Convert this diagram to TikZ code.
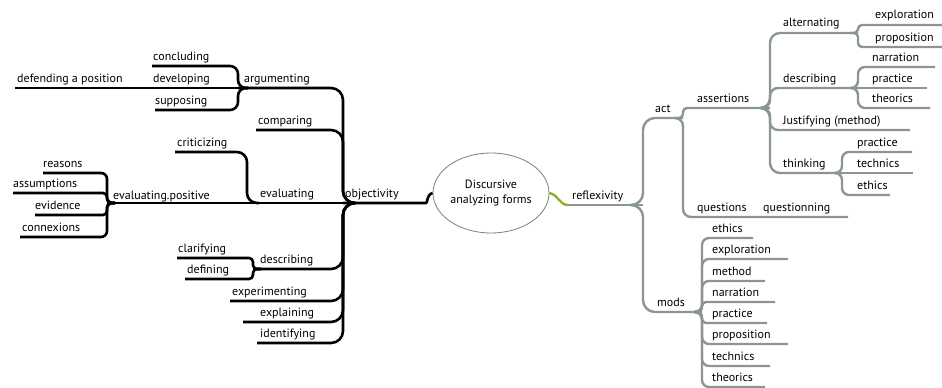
\documentclass[tikz,border=0pt]{standalone}
\usepackage{fontspec}
\setmainfont{PT Sans}
\usetikzlibrary{shapes.geometric}
\definecolor{linegrey}{RGB}{140,150,145}
\definecolor{lgreen}{RGB}{140,178,40}
\definecolor{ellgrey}{RGB}{125,125,125}
\begin{document}
\begin{tikzpicture}[x=1pt,y=-1pt,
  lbl/.style={anchor=base west, inner sep=0pt, font=\fontsize{12}{14}\selectfont},
  blk/.style={line width=2.6pt, black, rounded corners=#1},
  blk/.default=6pt,
  gry/.style={line width=2.4pt, linegrey, rounded corners=#1},
  gry/.default=6pt]
\useasboundingbox (0,0) rectangle (942,388);
% centre
\node[ellipse, draw=ellgrey, line width=0.8pt, fill=white, minimum width=116pt, minimum height=80pt, align=center, inner sep=0pt, font=\fontsize{12}{15}\selectfont] (ctr) at (491,193) {Discursive\\analyzing forms};
% ---------- left (black) ----------
\coordinate (Jobj) at (343,203);
\coordinate (objE) at (420,203);
\coordinate (argJ) at (238,88);
\coordinate (conclE) at (152,66);
\coordinate (defE) at (15,88);
\coordinate (suppE) at (155,110);
\coordinate (compE) at (256,130);
\coordinate (evJ) at (247,203);
\coordinate (critE) at (175,152);
\coordinate (epJ) at (107,203);
\coordinate (reasE) at (43,173);
\coordinate (assE) at (13,193);
\coordinate (eviE) at (35,215);
\coordinate (conE) at (20,237);
\coordinate (deJ) at (253,269);
\coordinate (clarE) at (177,258);
\coordinate (defiE) at (185,279);
\coordinate (expE) at (230,301);
\coordinate (explE) at (243,322);
\coordinate (idE) at (257,343);

\draw[blk] (ctr.west) .. controls (426,195) and (428,203) .. (objE) -- (Jobj);
\draw[blk=12pt] ([xshift=12pt]Jobj) -- (Jobj) |- (argJ);
\draw[blk=12pt] ([xshift=12pt]Jobj) -- (Jobj) |- (compE);
\draw[blk] (Jobj) -- (evJ);
\draw[blk=12pt] ([xshift=12pt]Jobj) -- (Jobj) |- (deJ);
\draw[blk=12pt] ([xshift=12pt]Jobj) -- (Jobj) |- (expE);
\draw[blk=12pt] ([xshift=12pt]Jobj) -- (Jobj) |- (explE);
\draw[blk=12pt] ([xshift=12pt]Jobj) -- (Jobj) |- (idE);
% argumenting
\draw[blk=8pt] ([xshift=10pt]argJ) -- (argJ) |- (conclE);
\draw[blk] (argJ) -- (defE);
\draw[blk=8pt] ([xshift=10pt]argJ) -- (argJ) |- (suppE);
% evaluating
\draw[blk=10pt] ([xshift=12pt]evJ) -- (evJ) |- (critE);
\draw[blk] (evJ) -- (epJ);
\draw[blk=6pt] ([xshift=8pt]epJ) -- (epJ) |- (reasE);
\draw[blk=4pt] ([xshift=8pt]epJ) -- (epJ) |- (assE);
\draw[blk=4pt] ([xshift=8pt]epJ) -- (epJ) |- (eviE);
\draw[blk=6pt] ([xshift=8pt]epJ) -- (epJ) |- (conE);
% describing
\draw[blk=4pt] ([xshift=8pt]deJ) -- (deJ) |- (clarE);
\draw[blk=4pt] ([xshift=8pt]deJ) -- (deJ) |- (defiE);

\node[lbl] (objectivity) at (345,197) {objectivity};
\node[lbl] (argumenting) at (244,82) {argumenting};
\node[lbl] (concluding) at (153,60) {concluding};
\node[lbl] (developing) at (153,82) {developing};
\node[lbl] (defending) at (17,82) {defending a position};
\node[lbl] (supposing) at (155,104) {supposing};
\node[lbl] (comparing) at (258,124) {comparing};
\node[lbl] (evaluating) at (260,197) {evaluating};
\node[lbl] (criticizing) at (177,146) {criticizing};
\node[lbl] (evalpos) at (113,199) {evaluating.positive};
\node[lbl] (reasons) at (43,167) {reasons};
\node[lbl] (assumptions) at (13,187) {assumptions};
\node[lbl] (evidence) at (35,209) {evidence};
\node[lbl] (connexions) at (22,231) {connexions};
\node[lbl] (describingL) at (260,263) {describing};
\node[lbl] (clarifying) at (178,252) {clarifying};
\node[lbl] (defining) at (187,273) {defining};
\node[lbl] (experimenting) at (232,295) {experimenting};
\node[lbl] (explaining) at (260,316) {explaining};
\node[lbl] (identifying) at (260,337) {identifying};

% ---------- right (grey) ----------
\coordinate (refS) at (568,205);
\coordinate (Jref) at (643,205);
\coordinate (actJ) at (683,118);
\coordinate (modJ) at (702,312);
\coordinate (asJ) at (770,108);
\coordinate (qE) at (848,217);
\coordinate (alJ) at (858,33);
\coordinate (dsJ) at (858,88);
\coordinate (juE) at (910,130);
\coordinate (thJ) at (842,173);
\coordinate (exE) at (944,25);
\coordinate (prE) at (944,47);
\coordinate (naE) at (935,67);
\coordinate (paE) at (927,88);
\coordinate (thE) at (930,108);
\coordinate (ptE) at (912,152);
\coordinate (teE) at (913,173);
\coordinate (etE) at (890,195);
\coordinate (m1) at (753,238);
\coordinate (m2) at (788,259);
\coordinate (m3) at (765,281);
\coordinate (m4) at (775,302);
\coordinate (m5) at (767,323);
\coordinate (m6) at (788,344);
\coordinate (m7) at (770,366);
\coordinate (m8) at (765,387);

\draw[line width=2.4pt, lgreen] (ctr.east) .. controls (559,195) and (559,205) .. (refS);
\draw[gry] (refS) -- (Jref);
\draw[gry=12pt] ([xshift=-12pt]Jref) -- (Jref) |- (actJ);
\draw[gry=12pt] ([xshift=-12pt]Jref) -- (Jref) |- (modJ);
\draw[gry=4pt] ([xshift=-8pt]actJ) -- (actJ) |- (asJ);
\draw[gry=8pt] ([xshift=-8pt]actJ) -- (actJ) |- (qE);
\draw[gry=10pt] ([xshift=-10pt]asJ) -- (asJ) |- (alJ);
\draw[gry=8pt] ([xshift=-8pt]asJ) -- (asJ) |- (dsJ);
\draw[gry=8pt] ([xshift=-8pt]asJ) -- (asJ) |- (juE);
\draw[gry=10pt] ([xshift=-10pt]asJ) -- (asJ) |- (thJ);
\draw[gry=4pt] ([xshift=-8pt]alJ) -- (alJ) |- (exE);
\draw[gry=4pt] ([xshift=-8pt]alJ) -- (alJ) |- (prE);
\draw[gry=7pt] ([xshift=-8pt]dsJ) -- (dsJ) |- (naE);
\draw[gry] (dsJ) -- (paE);
\draw[gry=7pt] ([xshift=-8pt]dsJ) -- (dsJ) |- (thE);
\draw[gry=7pt] ([xshift=-8pt]thJ) -- (thJ) |- (ptE);
\draw[gry] (thJ) -- (teE);
\draw[gry=7pt] ([xshift=-8pt]thJ) -- (thJ) |- (etE);
\foreach \m/\r in {m1/7pt,m2/7pt,m3/7pt,m4/4pt,m5/4pt,m6/7pt,m7/7pt,m8/7pt}
  \draw[gry=\r] ([xshift=-8pt]modJ) -- (modJ) |- (\m);

\node[lbl] (reflexivity) at (572,199) {reflexivity};
\node[lbl] (act) at (655,112) {act};
\node[lbl] (assertions) at (697,102) {assertions};
\node[lbl] (alternating) at (783,27) {alternating};
\node[lbl] (exploration) at (875,19) {exploration};
\node[lbl] (proposition) at (875,41) {proposition};
\node[lbl] (describingR) at (783,82) {describing};
\node[lbl] (narration) at (872,61) {narration};
\node[lbl] (practiceA) at (872,82) {practice};
\node[lbl] (theoricsA) at (872,102) {theorics};
\node[lbl] (justifying) at (783,124) {Justifying (method)};
\node[lbl] (thinking) at (783,167) {thinking};
\node[lbl] (practiceB) at (857,146) {practice};
\node[lbl] (technicsB) at (857,167) {technics};
\node[lbl] (ethicsB) at (857,189) {ethics};
\node[lbl] (questions) at (697,211) {questions};
\node[lbl] (questionning) at (763,211) {questionning};
\node[lbl] (mods) at (657,306) {mods};
\node[lbl] (ethicsM) at (712,232) {ethics};
\node[lbl] (explorationM) at (712,253) {exploration};
\node[lbl] (methodM) at (712,275) {method};
\node[lbl] (narrationM) at (712,296) {narration};
\node[lbl] (practiceM) at (712,317) {practice};
\node[lbl] (propositionM) at (712,338) {proposition};
\node[lbl] (technicsM) at (712,360) {technics};
\node[lbl] (theoricsM) at (712,381) {theorics};
\end{tikzpicture}
\end{document}
